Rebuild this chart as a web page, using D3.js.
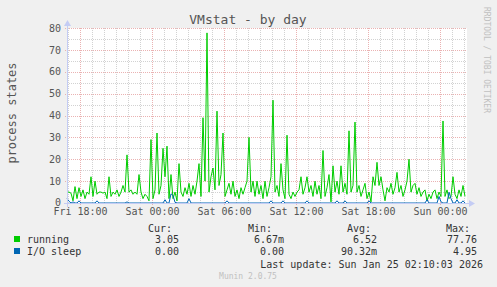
<!DOCTYPE html>
<html>
<head>
<meta charset="utf-8">
<script src="https://cdn.jsdelivr.net/npm/d3@7"></script>
<style>
  body { margin: 0; background: #f0f0f0; }
  svg text { font-family: "DejaVu Sans Mono", monospace; }
</style>
</head>
<body>
<div id="chart"></div>
<script>
// data: 10 minute samples starting Fri 16:55
var startTime = new Date(2026, 0, 23, 16, 55);
var endTime = new Date(2026, 0, 25, 2, 15);
var stepMinutes = 10;

var running = [5,5,4.5,1,7.5,2,7,3,6,2,5,4,12,3,10,4,5,5,4.5,5,
  2,12,3,5,4,6,3,5,8,5,22,5,6,4,5,4,13,5,2,4,
  3,1,29,2,6,32,4,8,25,12,26,2,13,2,5,1,18,5,3,7,
  4,9,3,8,4,10,18,3,39,10,77.76,5,12,16,6,42,8,13,32,3,
  6,9,4,10,3,6,2,7,4,7,10,30,5,10,3,10,4,8,2,10,
  3,7,12,47,5,8,3,18,6,2,31,4,2,5,3,5,6,12,4,7,
  12,5,8,3,10,4,8,2,24,3,7,13,0.5,17,5,10,4,17,5,9,
  4,33,5,8,37,5,8,3,6,9,2,5,0.5,12,8,18.6,8,12,6,1,
  7,5,9,4,7,14,5,8,3,6,10,20,5,8,9,4,7,3,5,6,
  1,4,2,5,6,2,5,3,37.5,3,6,2,3,12,4,2,6,3,8,3.05];

var ioSleep = [2,0.8,0,0.5,0,0,1,0,0,0,0,0,0,0,0,1,0,0,0,0,
  0,0,0,0,0,0,0,0,0,0,0.5,0,0,0,0,0,0,0,0,0,
  0,0,0,0,0,0,0,0,0,1.5,0,0,4.2,3.5,0.3,0,0,0,0,0,
  0,2,0,0,0,0,0,0,0,0,0,0,0,0,0,0,0,0,0,0,
  1,0,0,0,0,0,0,0,0,0,0,0,0,0,0,0,0,0,0,0,
  0,0,1,0,0,0,0,0,1,0,0,0,0,0,0,0,0,0,0,0,
  1,0,0,0,0,0,0,0,0,0,0,0,0,0,0,1,0,0,0,1,
  0,0,0,0,0,0,0,0,0,0,0,1,0,0,0,0,0,0,0,0,
  0,0,0,0,0,0,0,0,0,0,0,0,0,0,0,0,0,0,0,0,
  1.5,0,0,0,0,0,3,0.5,0,0,0,4.95,2,0,0,1.5,0,0,1,0];

var seriesNames = ["running", "I/O sleep"];
var seriesColors = ["#00cc00", "#0066b3"];
var statHeaders = ["Cur:", "Min:", "Avg:", "Max:"];
var statValues = [
  ["3.05", "6.67m", "6.52", "77.76"],
  ["0.00", "0.00", "90.32m", "4.95"]
];
var yTicks = [0, 10, 20, 30, 40, 50, 60, 70, 80];

var svgWidth = 497;
var svgHeight = 287;
var plot = { left: 67, right: 467, top: 28, bottom: 203 };

var svg = d3.select("#chart")
    .append("svg")
    .attr("width", svgWidth)
    .attr("height", svgHeight);

svg.append("rect")
    .attr("width", svgWidth)
    .attr("height", svgHeight)
    .attr("fill", "#f0f0f0");

var x = d3.scaleTime().domain([startTime, endTime]).range([plot.left, plot.right]);
var y = d3.scaleLinear().domain([0, 80]).range([plot.bottom, plot.top]);

// plot background
svg.append("rect")
    .attr("x", plot.left)
    .attr("y", plot.top)
    .attr("width", plot.right - plot.left)
    .attr("height", plot.bottom - plot.top)
    .attr("fill", "#ffffff");

// grid
var gridGroup = svg.append("g").attr("shape-rendering", "crispEdges");
var minorColor = "#d2d2d2";
var majorColor = "#eab2b2";

var hourTicks = x.ticks(d3.timeHour.every(1));
gridGroup.selectAll(".vminor")
    .data(hourTicks.filter(d => d.getHours() % 6 !== 0))
    .enter().append("line")
    .attr("x1", d => Math.round(x(d)) + 0.5)
    .attr("x2", d => Math.round(x(d)) + 0.5)
    .attr("y1", plot.top)
    .attr("y2", plot.bottom)
    .attr("stroke", minorColor)
    .attr("stroke-dasharray", "1,1");

gridGroup.selectAll(".hminor")
    .data(d3.range(5, 80, 10))
    .enter().append("line")
    .attr("x1", plot.left)
    .attr("x2", plot.right)
    .attr("y1", d => Math.round(y(d)) + 0.5)
    .attr("y2", d => Math.round(y(d)) + 0.5)
    .attr("stroke", minorColor)
    .attr("stroke-dasharray", "1,1");

gridGroup.selectAll(".vmajor")
    .data(x.ticks(d3.timeHour.every(6)))
    .enter().append("line")
    .attr("x1", d => Math.round(x(d)) + 0.5)
    .attr("x2", d => Math.round(x(d)) + 0.5)
    .attr("y1", plot.top)
    .attr("y2", plot.bottom + 3)
    .attr("stroke", majorColor)
    .attr("stroke-dasharray", "1,1");

gridGroup.selectAll(".hmajor")
    .data(yTicks.filter(d => d > 0))
    .enter().append("line")
    .attr("x1", plot.left - 2)
    .attr("x2", plot.right)
    .attr("y1", d => Math.round(y(d)) + 0.5)
    .attr("y2", d => Math.round(y(d)) + 0.5)
    .attr("stroke", majorColor)
    .attr("stroke-dasharray", "1,1");

// series lines
var series = [running, ioSleep];
var line = d3.line()
    .x((d, i) => x(d3.timeMinute.offset(startTime, i * stepMinutes)))
    .y(d => y(d));

series.forEach(function(values, k) {
    svg.append("path")
        .datum(values)
        .attr("fill", "none")
        .attr("stroke", seriesColors[k])
        .attr("stroke-width", 1)
        .attr("d", line);
});

// axes lines with arrows
var axisColor = "#c4ccf4";
svg.append("line")
    .attr("x1", plot.left + 0.5).attr("x2", plot.left + 0.5)
    .attr("y1", plot.bottom + 4).attr("y2", plot.top - 5)
    .attr("stroke", axisColor).attr("shape-rendering", "crispEdges");
svg.append("line")
    .attr("x1", plot.left - 3).attr("x2", plot.right + 5)
    .attr("y1", plot.bottom + 0.5).attr("y2", plot.bottom + 0.5)
    .attr("stroke", axisColor).attr("shape-rendering", "crispEdges");
svg.append("path")
    .attr("d", `M${plot.left - 3},${plot.top - 2} L${plot.left + 4},${plot.top - 2} L${plot.left + 0.5},${plot.top - 8} Z`)
    .attr("fill", axisColor);
svg.append("path")
    .attr("d", `M${plot.right + 2},${plot.bottom - 3} L${plot.right + 2},${plot.bottom + 4} L${plot.right + 8},${plot.bottom + 0.5} Z`)
    .attr("fill", axisColor);

// tick labels via d3 axes
var bottomAxis = d3.axisBottom(x)
    .ticks(d3.timeHour.every(6))
    .tickFormat(d3.timeFormat("%a %H:%M"))
    .tickSize(0)
    .tickPadding(5);
var xAxis = svg.append("g")
    .attr("transform", `translate(0,${plot.bottom})`)
    .call(bottomAxis);

var leftAxis = d3.axisLeft(y)
    .tickValues(yTicks)
    .tickSize(0)
    .tickPadding(6);
var yAxis = svg.append("g")
    .attr("transform", `translate(${plot.left},0)`)
    .call(leftAxis);

[xAxis, yAxis].forEach(function(ax) {
    ax.select(".domain").remove();
    ax.selectAll("text")
        .attr("font-family", "DejaVu Sans Mono")
        .attr("font-size", "10px")
        .attr("fill", "#555555");
});
// lift the "0" label a touch so it clears the first time label
yAxis.selectAll(".tick text").filter(d => d === 0).attr("dy", "0.2em");

// title and labels
svg.append("text")
    .attr("x", 248)
    .attr("y", 24)
    .attr("text-anchor", "middle")
    .attr("font-size", "13px")
    .attr("fill", "#555555")
    .text("VMstat - by day");

svg.append("text")
    .attr("transform", "translate(16,113) rotate(-90)")
    .attr("text-anchor", "middle")
    .attr("font-size", "12px")
    .attr("fill", "#555555")
    .text("process states");

svg.append("text")
    .attr("transform", "translate(484,60) rotate(90)")
    .attr("text-anchor", "middle")
    .attr("font-size", "8px")
    .attr("fill", "#c0c0c0")
    .text("RRDTOOL / TOBI OETIKER");

// legend
var statRight = [172, 272, 371, 470];
var valueRight = [179, 284, 377, 477];

var legend = svg.append("g").attr("font-size", "10px").attr("fill", "#333333");

legend.selectAll(".hdr")
    .data(statHeaders)
    .enter().append("text")
    .attr("x", (d, i) => statRight[i])
    .attr("y", 232)
    .attr("text-anchor", "end")
    .text(d => d);

seriesNames.forEach(function(name, k) {
    var rowY = 243 + k * 12;
    legend.append("rect")
        .attr("x", 14)
        .attr("y", rowY - 7)
        .attr("width", 6)
        .attr("height", 6)
        .attr("fill", seriesColors[k]);
    legend.append("text")
        .attr("x", 27)
        .attr("y", rowY)
        .text(name);
    legend.selectAll(".val" + k)
        .data(statValues[k])
        .enter().append("text")
        .attr("x", (d, i) => valueRight[i])
        .attr("y", rowY)
        .attr("text-anchor", "end")
        .text(d => d);
});

legend.append("text")
    .attr("x", 483)
    .attr("y", 268)
    .attr("text-anchor", "end")
    .text("Last update: Sun Jan 25 02:10:03 2026");

svg.append("text")
    .attr("x", 248)
    .attr("y", 279)
    .attr("text-anchor", "middle")
    .attr("font-size", "8px")
    .attr("fill", "#c0c0c0")
    .text("Munin 2.0.75");
</script>
</body>
</html>
